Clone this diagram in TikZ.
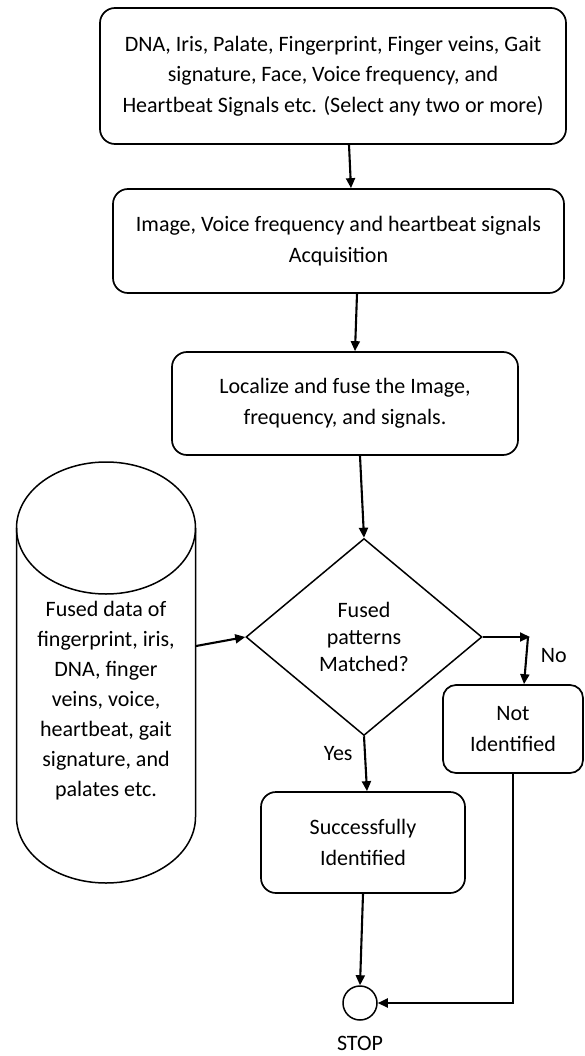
\documentclass[tikz,border=0pt]{standalone}
\usepackage{fontspec}
\setmainfont{Carlito}
\usetikzlibrary{arrows.meta, shapes.geometric, positioning}

\begin{document}
\begin{tikzpicture}[
            x=1pt, y=-1pt,
            box/.style={
                draw, line width=1.7pt, rounded corners=15pt,
                align=center, inner sep=0pt,
                font=\fontsize{22}{30.5}\selectfont
            },
            decision/.style={
                draw, diamond, line width=1.5pt, inner sep=0pt,
                align=center, font=\fontsize{22}{27}\selectfont
            },
            arr/.style={line width=2.1pt, -{Triangle[length=10pt, width=9pt]}},
            lbl/.style={font=\fontsize{22}{25}\selectfont}
        ]
        \useasboundingbox (0, 0) rectangle (584, 1056);

        % process boxes
        \node[box, minimum width=466pt, minimum height=136pt] (src) at (333, 76)
            {DNA, Iris, Palate, Fingerprint, Finger veins, Gait\\
             signature, Face, Voice frequency, and\\
             Heartbeat Signals etc. (Select any two or more)};
        \node[box, minimum width=451pt, minimum height=104pt] (acq) at (338.5, 241)
            {Image, Voice frequency and heartbeat signals\\Acquisition};
        \node[box, minimum width=346pt, minimum height=103pt] (fuse) at (345, 403.5)
            {Localize and fuse the Image,\\frequency, and signals.};
        \node[decision, minimum width=236pt, minimum height=197pt] (match) at (364, 637)
            {Fused\\patterns\\Matched?};
        \node[box, minimum width=204pt, minimum height=101pt] (ok) at (363, 842.5)
            {Successfully\\Identified};
        \node[box, rounded corners=13pt, minimum width=140pt, minimum height=88pt] (notid) at (513, 729)
            {Not\\Identified};
        \node[draw, circle, line width=1.5pt, minimum size=34pt, inner sep=0pt,
            label={[label distance=12pt, lbl]below:STOP}] (stop) at (360, 1003) {};

        % database cylinder
        \draw[line width=1.5pt] (106, 528) ellipse [x radius=89.5, y radius=66];
        \draw[line width=1.5pt] (16.5, 528) -- (16.5, 817)
            arc [start angle=180, end angle=0, x radius=89.5, y radius=66] -- (195.5, 528);
        \node[align=center, font=\fontsize{22}{30}\selectfont] (db) at (106, 701)
            {Fused data of\\fingerprint, iris,\\DNA, finger\\veins, voice,\\heartbeat, gait\\signature, and\\palates etc.};
        \coordinate (dbr) at (196, 646);
        \coordinate (nocorner) at (530, 637);

        % connectors
        \draw[arr] ([xshift=16pt]src.south) -- ([xshift=12.5pt]acq.north);
        \draw[arr] ([xshift=18.5pt]acq.south) -- ([xshift=10pt]fuse.north);
        \draw[arr] ([xshift=15pt]fuse.south) -- (match.north);
        \draw[arr] (dbr) -- (match.west);
        \draw[arr] (match.east) -- (nocorner);
        \draw[arr] ([xshift=-2pt]nocorner) -- ([xshift=11pt]notid.north)
            node[lbl, pos=0.4, right=10pt] (no) {No};
        \draw[arr] (match.south) -- ([xshift=4pt]ok.north)
            node[lbl, pos=0.32, left=8pt] (yes) {Yes};
        \draw[arr] (ok.south) -- (stop.north);
        \draw[arr] (notid.south) |- (stop.east);
    \end{tikzpicture}
\end{document}
